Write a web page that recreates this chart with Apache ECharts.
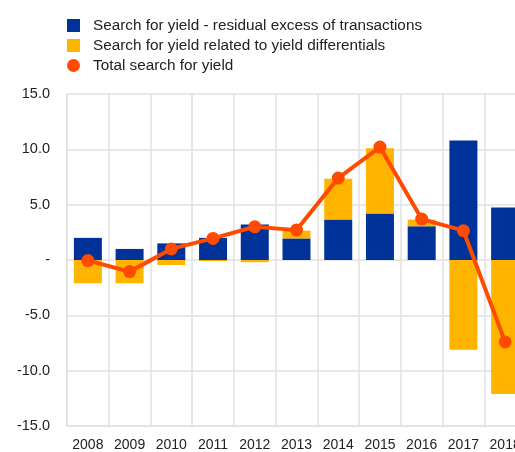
<!DOCTYPE html>
<html>
<head>
<meta charset="utf-8">
<script src="https://cdn.jsdelivr.net/npm/echarts@6/dist/echarts.min.js"></script>
<style>
  html, body { margin: 0; padding: 0; overflow: hidden; background: #fff; }
  #chart { width: 530px; height: 452px; }
</style>
</head>
<body>
<div id="chart"></div>
<script>
const years = ['2008', '2009', '2010', '2011', '2012', '2013', '2014', '2015', '2016', '2017', '2018']
const residual = [2.0, 1.0, 1.5, 2.0, 3.2, 1.95, 3.65, 4.2, 3.05, 10.8, 4.75]
const differentials = [-2.1, -2.1, -0.45, -0.1, -0.2, 0.7, 3.7, 5.9, 0.6, -8.1, -12.1]
const total = [-0.05, -1.05, 1.0, 1.95, 3.0, 2.7, 7.4, 10.2, 3.7, 2.65, -7.4]

const chart = echarts.init(document.getElementById('chart'))
const font = 'Liberation Sans, Arial, sans-serif'

chart.setOption({
  animation: false,
  textStyle: { fontFamily: font },
  legend: {
    orient: 'vertical',
    left: 62,
    top: 13,
    itemWidth: 13,
    itemHeight: 13,
    itemGap: 5,
    textStyle: { fontSize: 15.3, color: '#222', fontFamily: font, padding: [0, 0, 0, 8] },
    data: [
      { name: 'Search for yield - residual excess of transactions', icon: 'rect' },
      { name: 'Search for yield related to yield differentials', icon: 'rect' },
      { name: 'Total search for yield', icon: 'circle' }
    ]
  },
  grid: { left: 67, right: 4, top: 94, bottom: 24 },
  xAxis: {
    type: 'category',
    data: years,
    axisTick: { show: false },
    axisLine: { show: true, onZero: false, lineStyle: { color: '#e1e1e1', width: 1.5 } },
    axisLabel: { fontSize: 14, color: '#222', margin: 12, fontFamily: font },
    splitLine: { show: true, lineStyle: { color: '#e1e1e1', width: 1.5 } }
  },
  yAxis: {
    type: 'value',
    min: -15,
    max: 15,
    interval: 5,
    axisLine: { show: true, lineStyle: { color: '#e1e1e1', width: 1.5 } },
    axisTick: { show: false },
    axisLabel: {
      fontSize: 14.5,
      color: '#222',
      margin: 17,
      fontFamily: font,
      formatter: v => (v === 0 ? '-' : v.toFixed(1))
    },
    splitLine: { show: true, lineStyle: { color: '#e1e1e1', width: 1.5 } }
  },
  series: [
    {
      name: 'Search for yield - residual excess of transactions',
      type: 'bar',
      stack: 'sfy',
      barWidth: 28,
      itemStyle: { color: '#003299' },
      data: residual
    },
    {
      name: 'Search for yield related to yield differentials',
      type: 'bar',
      stack: 'sfy',
      barWidth: 28,
      itemStyle: { color: '#ffb400' },
      data: differentials
    },
    {
      name: 'Total search for yield',
      type: 'line',
      symbol: 'circle',
      symbolSize: 13,
      lineStyle: { color: '#ff4b00', width: 4 },
      itemStyle: { color: '#ff4b00' },
      z: 5,
      data: total
    }
  ]
})
</script>
</body>
</html>
